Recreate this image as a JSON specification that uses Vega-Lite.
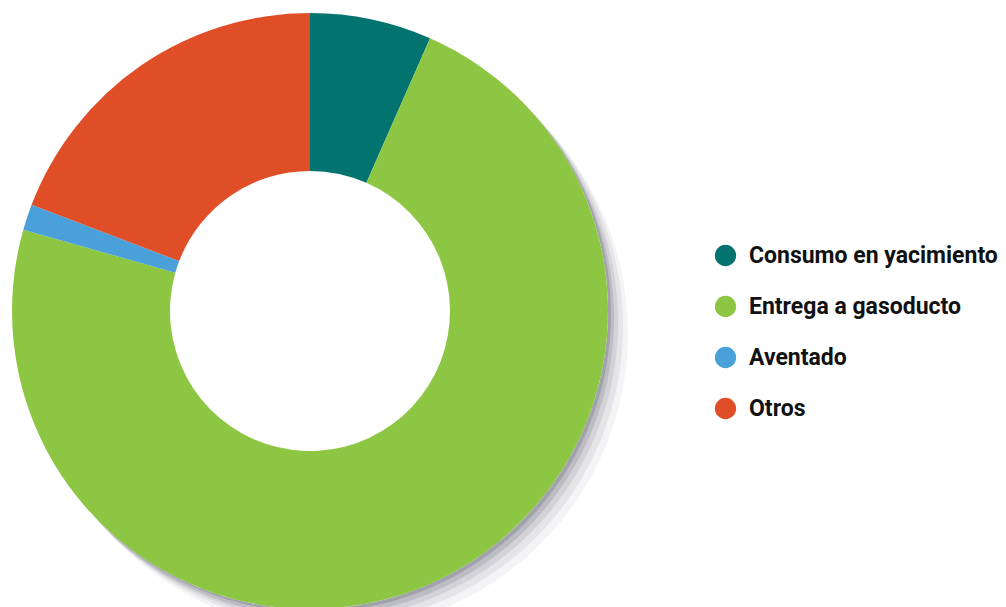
{
  "$schema": "https://vega.github.io/schema/vega-lite/v6.json",
  "autosize": {"type": "none"},
  "padding": {"left": 0, "top": 0, "right": 386, "bottom": 0},
  "width": 620,
  "height": 622,
  "background": "white",
  "data": {
    "values": [
      {"categoria": "Consumo en yacimiento", "valor": 6.6, "orden": 1},
      {"categoria": "Entrega a gasoducto", "valor": 72.8, "orden": 2},
      {"categoria": "Aventado", "valor": 1.4, "orden": 3},
      {"categoria": "Otros", "valor": 19.2, "orden": 4}
    ]
  },
  "layer": [
    {
      "transform": [{"aggregate": [{"op": "sum", "field": "valor", "as": "total"}]}],
      "mark": {"type": "arc", "outerRadius": 298, "innerRadius": 0, "fill": "#4a4a60", "opacity": 0.06, "xOffset": 20, "yOffset": 22, "stroke": null},
      "encoding": {"theta": {"field": "total", "type": "quantitative"}}
    },
    {
      "transform": [{"aggregate": [{"op": "sum", "field": "valor", "as": "total"}]}],
      "mark": {"type": "arc", "outerRadius": 298, "innerRadius": 0, "fill": "#4a4a60", "opacity": 0.09, "xOffset": 15, "yOffset": 16, "stroke": null},
      "encoding": {"theta": {"field": "total", "type": "quantitative"}}
    },
    {
      "transform": [{"aggregate": [{"op": "sum", "field": "valor", "as": "total"}]}],
      "mark": {"type": "arc", "outerRadius": 298, "innerRadius": 0, "fill": "#4a4a60", "opacity": 0.12, "xOffset": 10, "yOffset": 11, "stroke": null},
      "encoding": {"theta": {"field": "total", "type": "quantitative"}}
    },
    {
      "transform": [{"aggregate": [{"op": "sum", "field": "valor", "as": "total"}]}],
      "mark": {"type": "arc", "outerRadius": 298, "innerRadius": 0, "fill": "#4a4a60", "opacity": 0.16, "xOffset": 6, "yOffset": 7, "stroke": null},
      "encoding": {"theta": {"field": "total", "type": "quantitative"}}
    },
    {
      "transform": [{"aggregate": [{"op": "sum", "field": "valor", "as": "total"}]}],
      "mark": {"type": "arc", "outerRadius": 298, "innerRadius": 0, "fill": "#4a4a60", "opacity": 0.22, "xOffset": 3, "yOffset": 3, "stroke": null},
      "encoding": {"theta": {"field": "total", "type": "quantitative"}}
    },
    {
      "transform": [{"aggregate": [{"op": "sum", "field": "valor", "as": "total"}]}],
      "mark": {"type": "arc", "outerRadius": 298, "innerRadius": 0, "fill": "white", "stroke": null},
      "encoding": {"theta": {"field": "total", "type": "quantitative"}}
    },
    {
      "mark": {"type": "arc", "outerRadius": 298, "innerRadius": 140, "stroke": null, "opacity": 1},
      "encoding": {
        "theta": {"field": "valor", "type": "quantitative", "stack": true},
        "order": {"field": "orden", "type": "quantitative"},
        "color": {
          "field": "categoria",
          "type": "nominal",
          "sort": ["Consumo en yacimiento", "Entrega a gasoducto", "Aventado", "Otros"],
          "scale": {
            "domain": ["Consumo en yacimiento", "Entrega a gasoducto", "Aventado", "Otros"],
            "range": ["#037370", "#8dc642", "#4aa0d8", "#e04e27"]
          },
          "legend": {
            "title": null,
            "orient": "none",
            "legendX": 714,
            "legendY": 244,
            "symbolType": "circle",
            "symbolSize": 452,
            "symbolStrokeWidth": 0,
            "symbolOpacity": 1,
            "labelFont": "Roboto",
            "labelFontWeight": "bold",
            "labelFontSize": 23,
            "labelColor": "#111111",
            "labelOffset": 12,
            "labelLimit": 400,
            "rowPadding": 27
          }
        }
      }
    }
  ]
}
